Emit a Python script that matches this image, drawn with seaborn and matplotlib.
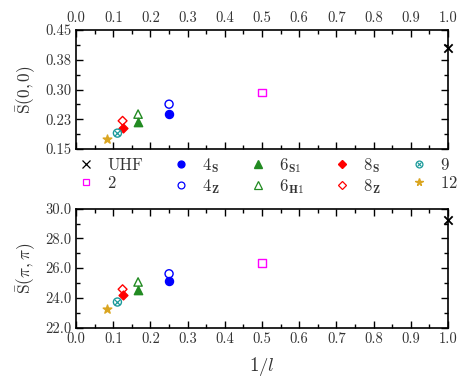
import matplotlib
matplotlib.use("Agg")
import matplotlib.pyplot as plt
import seaborn as sns
from matplotlib.lines import Line2D
from matplotlib.legend_handler import HandlerTuple
from matplotlib.ticker import MultipleLocator, FormatStrFormatter

# ---- data ----
labels = ["UHF", "2", "4S", "4Z", "6S1", "6H1", "8S", "8Z", "9", "12"]
inv_l = [1.0, 0.5, 0.25, 0.25, 1/6, 1/6, 0.125, 0.125, 1/9, 1/12]
s00 = [0.405, 0.292, 0.238, 0.263, 0.217, 0.238, 0.203, 0.221, 0.190, 0.176]
spipi = [29.23, 26.36, 25.13, 25.62, 24.55, 25.07, 24.17, 24.58, 23.72, 23.28]
legend_text = ["UHF", r"$\mathbf{2}$", r"$\mathbf{4}_{\mathbf{S}}$", r"$\mathbf{4}_{\mathbf{Z}}$",
               r"$\mathbf{6}_{\mathbf{S1}}$", r"$\mathbf{6}_{\mathbf{H1}}$",
               r"$\mathbf{8}_{\mathbf{S}}$", r"$\mathbf{8}_{\mathbf{Z}}$",
               r"$\mathbf{9}$", r"$\mathbf{12}$"]
x_ticks = [0.0, 0.1, 0.2, 0.3, 0.4, 0.5, 0.6, 0.7, 0.8, 0.9, 1.0]
top_yticks = [0.15, 0.225, 0.30, 0.375, 0.45]
bot_yticks = [22.0, 24.0, 26.0, 28.0, 30.0]

# ---- styles ----
styles = {
    "UHF": dict(marker="x", color="black", filled=True, size=6),
    "2": dict(marker="s", color="#ff00ff", filled=False, size=5.5),
    "4S": dict(marker="o", color="#0000ff", filled=True, size=5.8),
    "4Z": dict(marker="o", color="#0000ff", filled=False, size=5.8),
    "6S1": dict(marker="^", color="#228b22", filled=True, size=6),
    "6H1": dict(marker="^", color="#228b22", filled=False, size=6),
    "8S": dict(marker="D", color="#ff0000", filled=True, size=4.5),
    "8Z": dict(marker="D", color="#ff0000", filled=False, size=4.5),
    "9": dict(marker="o", color="#1a9a9a", filled=False, size=5.8),
    "12": dict(marker="*", color="#daa520", filled=True, size=6.5),
}

sns.set_style("ticks")
plt.rcParams["font.family"] = ["cmr10", "DejaVu Serif"]
plt.rcParams["mathtext.fontset"] = "cm"
plt.rcParams["axes.formatter.use_mathtext"] = True
plt.rcParams["axes.unicode_minus"] = False

fig = plt.figure(figsize=(4.64, 3.90), dpi=100)
ax1 = fig.add_axes([0.164, 0.618, 0.8015, 0.305])
ax2 = fig.add_axes([0.164, 0.160, 0.8015, 0.305])

def draw(ax, yvals):
    for lab, x, y in zip(labels, inv_l, yvals):
        st = styles[lab]
        ms = st["size"]
        if st["marker"] == "x":
            sns.scatterplot(x=[x], y=[y], ax=ax, marker="x", color=st["color"],
                            s=ms**2, linewidth=1.3, zorder=5, clip_on=False)
        elif st["filled"]:
            sns.scatterplot(x=[x], y=[y], ax=ax, marker=st["marker"], color=st["color"],
                            edgecolor=st["color"], s=ms**2, linewidth=1.0, zorder=5)
        else:
            sns.scatterplot(x=[x], y=[y], ax=ax, marker=st["marker"], facecolor="none",
                            edgecolor=st["color"], s=ms**2, linewidth=1.0, zorder=5)
            if lab == "9":
                sns.scatterplot(x=[x], y=[y], ax=ax, marker="x", color=st["color"],
                                s=(ms*0.65)**2, linewidth=0.9, zorder=6)

draw(ax1, s00)
draw(ax2, spipi)

for ax in (ax1, ax2):
    ax.set_xlim(0, 1)
    ax.set_xticks(x_ticks)
    ax.xaxis.set_minor_locator(MultipleLocator(0.05))
    ax.xaxis.set_major_formatter(FormatStrFormatter("%.1f"))
    ax.tick_params(which="both", direction="in", top=True, right=True, width=1.0,
                   labelsize=10.5, colors="black", labelcolor="#333333")
    ax.tick_params(which="major", length=5)
    ax.tick_params(which="minor", length=3)
    for sp in ax.spines.values():
        sp.set_linewidth(1.2)
        sp.set_color("black")
    ax.set_xlabel("")
    ax.set_ylabel("")

ax1.set_ylim(0.15, 0.45)
ax1.set_yticks(top_yticks)
ax1.yaxis.set_minor_locator(MultipleLocator(0.0375))
ax1.yaxis.set_major_formatter(FormatStrFormatter("%.2f"))
ax1.tick_params(axis="x", labeltop=True, labelbottom=False)
ax1.set_ylabel(r"$\bar{\mathrm{S}}(0,0)$", fontsize=12.5, labelpad=5, color="#333333")

ax2.set_ylim(22, 30)
ax2.set_yticks(bot_yticks)
ax2.yaxis.set_minor_locator(MultipleLocator(1.0))
ax2.yaxis.set_major_formatter(FormatStrFormatter("%.1f"))
ax2.set_ylabel(r"$\bar{\mathrm{S}}(\pi,\pi)$", fontsize=12.5, labelpad=5, color="#333333")
ax2.set_xlabel(r"$1/l$", fontsize=13.5, labelpad=6, color="#333333")

# legend
handles = []
for lab in labels:
    st = styles[lab]
    ms = st["size"] * 0.85
    if st["marker"] == "x":
        h = Line2D([], [], ls="none", marker="x", color=st["color"], ms=ms, mew=0.9)
    elif st["filled"]:
        h = Line2D([], [], ls="none", marker=st["marker"], color=st["color"], ms=ms)
    else:
        h = Line2D([], [], ls="none", marker=st["marker"], color=st["color"],
                   mfc="none", ms=ms, mew=0.9)
        if lab == "9":
            h = (h, Line2D([], [], ls="none", marker="x", color=st["color"],
                           ms=ms*0.65, mew=0.8))
    handles.append(h)

leg = fig.legend(handles, legend_text,
                 ncol=5, loc="center left", bbox_to_anchor=(0.168, 0.549), frameon=False,
                 fontsize=12, handlelength=1.0, handletextpad=0.75, columnspacing=1.8,
                 labelspacing=0.15, borderaxespad=0, borderpad=0,
                 handler_map={tuple: HandlerTuple(ndivide=1)})
for t in leg.get_texts():
    t.set_color("#333333")

fig.savefig("out.png", dpi=100)
